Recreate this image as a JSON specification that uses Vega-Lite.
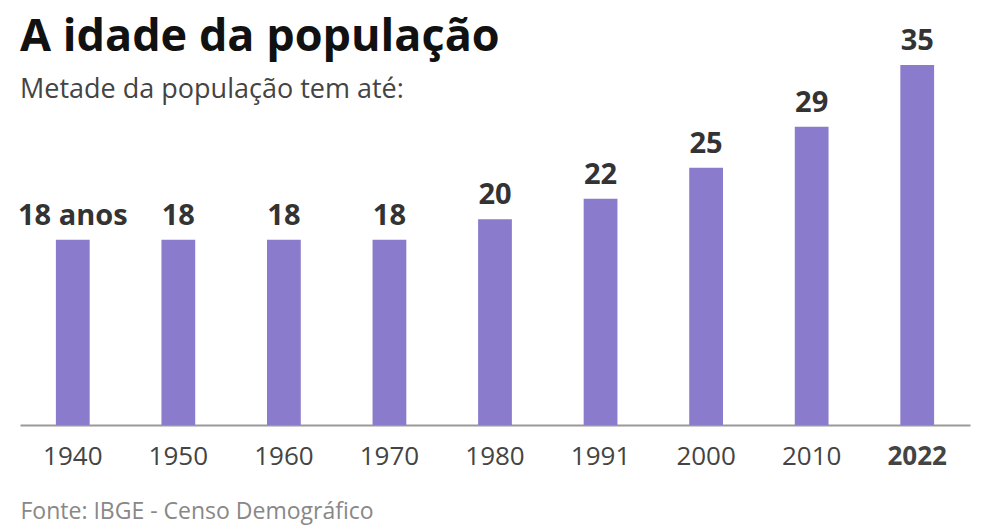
{
  "$schema": "https://vega.github.io/schema/vega-lite/v6.json",
  "autosize": {"type": "none"},
  "width": 950,
  "height": 360,
  "padding": {"left": 20, "top": 65, "right": 14, "bottom": 105},
  "background": "white",
  "config": {"view": {"stroke": null}, "font": "Open Sans"},
  "title": {
    "text": "A idade da população",
    "subtitle": "Metade da população tem até:",
    "anchor": "start",
    "frame": "group",
    "font": "Open Sans",
    "fontSize": 45,
    "fontWeight": "bold",
    "color": "#111111",
    "subtitleFont": "Open Sans",
    "subtitleFontSize": 27,
    "subtitleColor": "#444444",
    "subtitlePadding": 17,
    "offset": -76
  },
  "data": {
    "values": [
      {"ano": "1940", "idade": 18, "rotulo": "18 anos"},
      {"ano": "1950", "idade": 18, "rotulo": "18"},
      {"ano": "1960", "idade": 18, "rotulo": "18"},
      {"ano": "1970", "idade": 18, "rotulo": "18"},
      {"ano": "1980", "idade": 20, "rotulo": "20"},
      {"ano": "1991", "idade": 22, "rotulo": "22"},
      {"ano": "2000", "idade": 25, "rotulo": "25"},
      {"ano": "2010", "idade": 29, "rotulo": "29"},
      {"ano": "2022", "idade": 35, "rotulo": "35"}
    ]
  },
  "encoding": {
    "x": {
      "field": "ano",
      "type": "nominal",
      "sort": null,
      "scale": {"paddingInner": 0.68, "paddingOuter": 0.34},
      "axis": {
        "title": "Fonte: IBGE - Censo Demográfico",
        "titleAnchor": "start",
        "titleAlign": "left",
        "titleFont": "Open Sans",
        "titleFontSize": 23,
        "titleFontWeight": "normal",
        "titleColor": "#888888",
        "titlePadding": 31,
        "labelAngle": 0,
        "labelFont": "Open Sans",
        "labelFontSize": 26,
        "labelColor": "#444444",
        "labelFontWeight": {"condition": {"test": "datum.value == '2022'", "value": "bold"}, "value": "normal"},
        "labelPadding": 18,
        "ticks": false,
        "domainColor": "#999999",
        "domainWidth": 2
      }
    },
    "y": {
      "field": "idade",
      "type": "quantitative",
      "scale": {"domain": [0, 35], "nice": false},
      "axis": null
    }
  },
  "layer": [
    {"mark": {"type": "bar", "color": "#8a7bcc"}},
    {
      "mark": {"type": "text", "baseline": "alphabetic", "dy": -15, "fontSize": 29, "fontWeight": "bold", "color": "#333333", "font": "Open Sans"},
      "encoding": {"text": {"field": "rotulo"}}
    }
  ]
}
